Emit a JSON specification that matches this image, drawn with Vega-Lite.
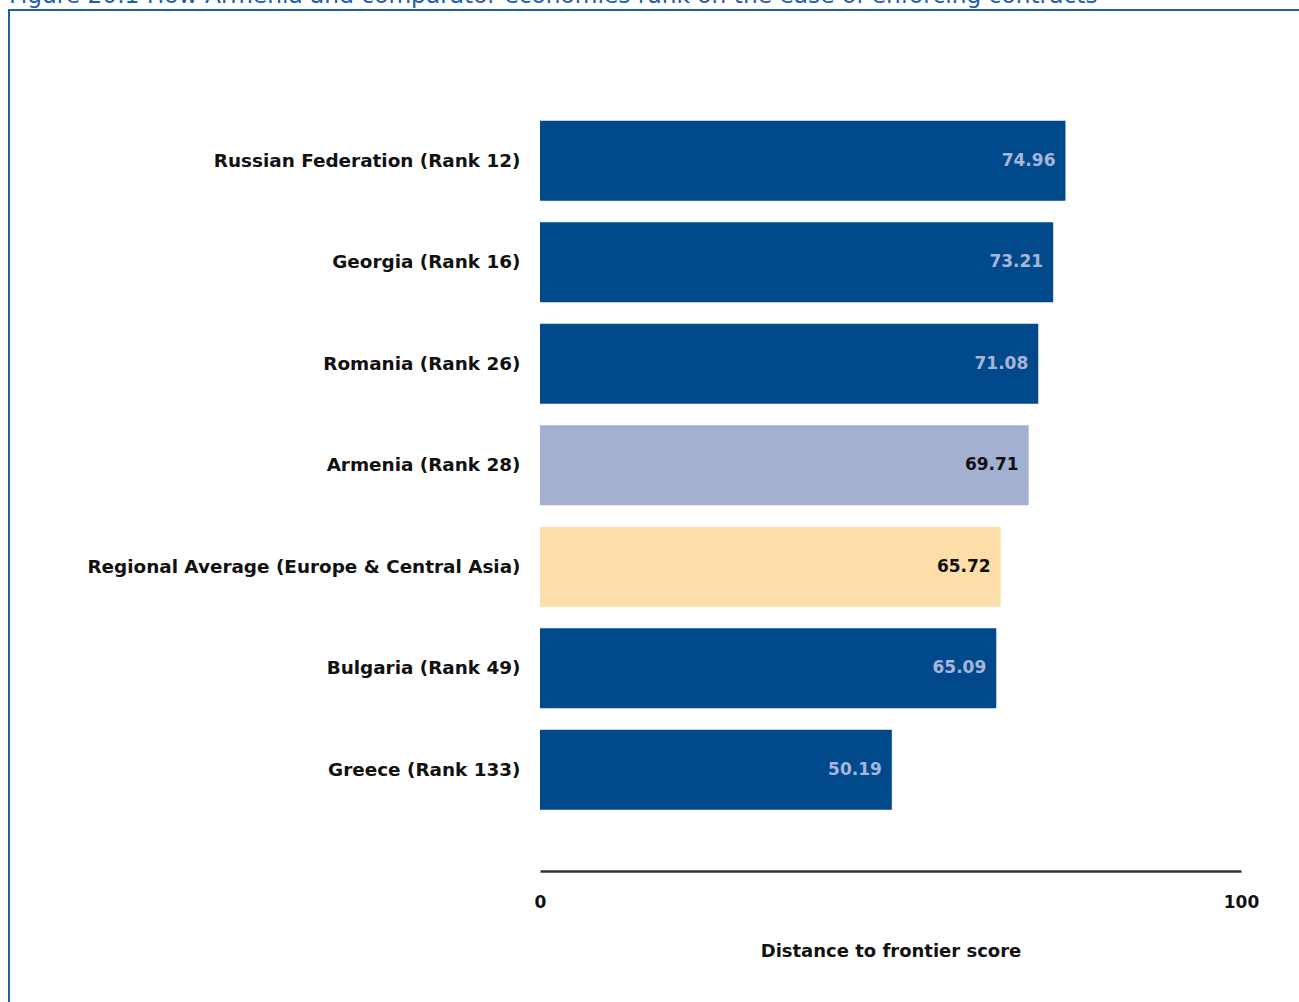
{
  "$schema": "https://vega.github.io/schema/vega-lite/v6.json",
  "autosize": {"type": "none"},
  "padding": {"left": 9, "top": 10, "right": 0, "bottom": 0},
  "width": 1300,
  "height": 1000,
  "background": "white",
  "title": {
    "text": "Figure 20.1 How Armenia and comparator economies rank on the ease of enforcing contracts",
    "anchor": "start",
    "frame": "group",
    "offset": 2,
    "font": "DejaVu Sans",
    "fontSize": 23.3,
    "fontWeight": "normal",
    "color": "#1f5fa8"
  },
  "data": {
    "values": [
      {"label": "Russian Federation (Rank 12)", "score": 74.96, "group": "comparator"},
      {"label": "Georgia (Rank 16)", "score": 73.21, "group": "comparator"},
      {"label": "Romania (Rank 26)", "score": 71.08, "group": "comparator"},
      {"label": "Armenia (Rank 28)", "score": 69.71, "group": "Armenia"},
      {"label": "Regional Average (Europe & Central Asia)", "score": 65.72, "group": "regional"},
      {"label": "Bulgaria (Rank 49)", "score": 65.09, "group": "comparator"},
      {"label": "Greece (Rank 133)", "score": 50.19, "group": "comparator"}
    ]
  },
  "encoding": {
    "y": {
      "field": "label",
      "type": "nominal",
      "sort": null,
      "scale": {"range": [100, 810.5], "paddingInner": 0.21, "paddingOuter": 0.105},
      "axis": {
        "title": null,
        "orient": "left",
        "offset": -531,
        "domain": false,
        "ticks": false,
        "tickSize": 0,
        "labelPadding": 20,
        "labelFont": "DejaVu Sans",
        "labelFontSize": 18.4,
        "labelFontWeight": "bold",
        "labelColor": "#111111",
        "labelLimit": 600
      }
    },
    "x": {
      "field": "score",
      "type": "quantitative",
      "scale": {"domain": [0, 100], "range": [531, 1232], "nice": false},
      "axis": {
        "title": "Distance to frontier score",
        "values": [0, 100],
        "orient": "bottom",
        "offset": -139,
        "grid": false,
        "ticks": false,
        "tickSize": 0,
        "domain": true,
        "domainColor": "#333333",
        "domainWidth": 2.5,
        "labelPadding": 23,
        "labelFont": "DejaVu Sans",
        "labelFontSize": 17,
        "labelFontWeight": "bold",
        "labelColor": "#111111",
        "labelFlush": false,
        "titleFont": "DejaVu Sans",
        "titleFontSize": 18,
        "titleFontWeight": "bold",
        "titleColor": "#111111",
        "titlePadding": 32
      }
    }
  },
  "layer": [
    {
      "mark": {"type": "bar"},
      "encoding": {
        "color": {
          "field": "group",
          "type": "nominal",
          "scale": {"domain": ["comparator", "Armenia", "regional"], "range": ["#004a8c", "#a4b0d2", "#fddea8"]},
          "legend": null
        }
      }
    },
    {
      "mark": {"type": "text", "align": "right", "baseline": "middle", "dx": -10, "font": "DejaVu Sans", "fontSize": 17, "fontWeight": "bold"},
      "encoding": {
        "text": {"field": "score", "type": "quantitative", "format": ".2f"},
        "color": {
          "condition": {"test": "datum.group === 'comparator'", "value": "#a9b5d8"},
          "value": "#111111"
        }
      }
    }
  ],
  "config": {
    "view": {"stroke": "#1f5fa8", "strokeWidth": 2}
  }
}
